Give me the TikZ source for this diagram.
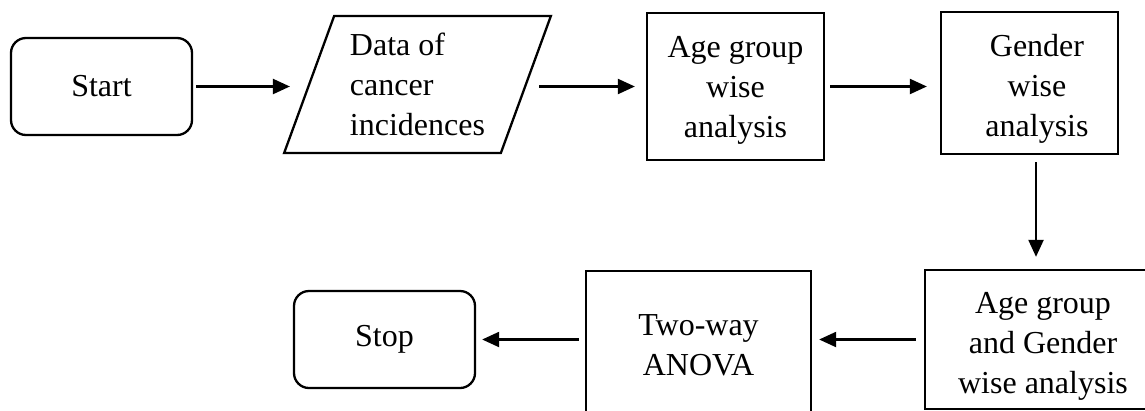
\documentclass[tikz,border=0pt]{standalone}
\usepackage{fontspec}
\setmainfont{Liberation Serif}
\usetikzlibrary{arrows.meta,shapes.geometric}
\begin{document}
\begin{tikzpicture}[x=1pt,y=-1pt,
  txt/.style={align=center,font=\fontsize{32}{40}\selectfont},
  base/.style={draw,line width=2.3pt,inner sep=0pt,txt},
  term/.style={base,rectangle,rounded corners=15pt,minimum width=181pt,minimum height=97pt},
  proc/.style={base,rectangle},
  io/.style={base,trapezium,trapezium left angle=68.5,trapezium right angle=111.5,trapezium stretches=true,minimum width=267pt,minimum height=137pt,align=left},
  arr/.style={line width=2.2pt,-{Triangle[length=17pt,width=15pt]}}]
\useasboundingbox (0,0) rectangle (1145,410);
\clip (0,0) rectangle (1145,410);
\node[term] (start) at (101.5,86.5) {\raisebox{1.5pt}{Start}};
\node[io] (data) at (417.5,84.5) {Data of\\cancer\\incidences};
\node[proc,minimum width=177pt,minimum height=147pt,
  label={[txt,yshift=-3.5pt]center:{Age group\\wise\\analysis}}] (age) at (735.5,86.5) {};
\node[proc,minimum width=177pt,minimum height=142pt,
  label={[txt,yshift=-6pt,xshift=7.5pt]center:{Gender\\wise\\analysis}}] (gender) at (1029.5,83) {};
\node[proc,minimum width=236pt,minimum height=139pt,
  label={[txt,yshift=-7pt]center:{Age group\\and Gender\\wise analysis}}] (ag) at (1043,339.5) {};
\node[proc,minimum width=225pt,minimum height=148pt] (anova) at (698.5,345) {Two-way\\ANOVA};
\node[term] (stop) at (384.5,339.5) {Stop};
\draw[arr,shorten <=3pt,shorten >=18pt] (start.east) -- (start.east -| data.west);
\draw[arr,shorten <=12pt,shorten >=11pt] (data.east |- age.west) -- (age.west);
\draw[arr,shorten <=5pt,shorten >=13pt] (age.east) -- (age.east -| gender.west);
\draw[arr,shorten <=7pt,shorten >=12pt] ([xshift=6.5pt]gender.south) -- ([xshift=6.5pt]gender.south |- ag.north);
\draw[arr,shorten <=8pt,shorten >=7pt] (ag.west) -- (ag.west -| anova.east);
\draw[arr,shorten <=6pt,shorten >=6pt] (anova.west |- stop.east) -- (stop.east);
\end{tikzpicture}
\end{document}
